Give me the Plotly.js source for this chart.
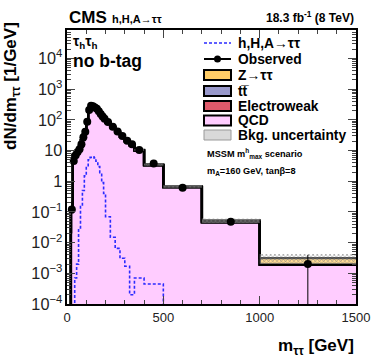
<!DOCTYPE html>
<html>
<head>
<meta charset="utf-8">
<script src="https://cdn.plot.ly/plotly-3.0.1.min.js"></script>
<style>
  html, body { margin: 0; padding: 0; background: #fff; }
  #plot { width: 374px; height: 359px; }
</style>
</head>
<body>
<div id="plot"></div>
<script>
// bin edges of the m_tautau histogram (GeV)
const edges = [0, 10, 20, 30, 40, 50, 60, 70, 80, 90, 100, 110, 120, 130, 140, 150, 160, 170, 180, 190, 200,
               225, 250, 275, 300, 325, 350, 400, 500, 700, 1000, 1500];

// background components, dN/dm per bin (1/GeV)
const qcd = [0, 0, 0.1, 7, 8, 9, 10, 13, 22, 40, 85, 190, 270, 265, 240, 215, 185, 152, 128, 108,
             82, 58, 40, 28, 20, 15, 10, 3.3, 0.64, 0.046, 0.0019];
const ewk = [0, 0, 0.002, 0.1, 0.15, 0.2, 0.3, 0.4, 0.5, 0.8, 1.2, 2, 2.5, 2.4, 2.2, 2, 1.8, 1.5, 1.2, 1,
             0.8, 0.6, 0.4, 0.3, 0.2, 0.15, 0.1, 0.03, 0.005, 0.0004, 0.00002];
const ttbar = [0, 0, 0.001, 0.05, 0.08, 0.1, 0.15, 0.2, 0.3, 0.4, 0.6, 0.9, 1.1, 1.1, 1, 0.9, 0.8, 0.7, 0.6, 0.5,
               0.4, 0.3, 0.2, 0.15, 0.1, 0.08, 0.05, 0.02, 0.004, 0.0003, 0.00001];
const ztt = [0, 0, 0.02, 0.5, 0.8, 1, 3, 8, 10, 8, 8, 10, 10, 8, 6, 5, 4, 3, 3, 2,
             2, 1.5, 1.2, 0.9, 0.7, 0.5, 0.4, 0.15, 0.03, 0.006, 0.0012];
// absolute background uncertainty per bin
const bkgUnc = [0, 0, 0.01, 0.6, 0.7, 0.8, 1.2, 2, 3, 4, 7, 14, 20, 19, 17, 15, 13, 11, 9, 7.5,
                5.5, 4, 2.8, 2, 1.5, 1.1, 0.8, 0.3, 0.06, 0.009, 0.0011];

// signal h,H,A -> tautau (mA = 160 GeV, tanb = 8)
const signal = [0, 0, 0, 0, 0.0007, 0.002, 0.03, 0.15, 0.5, 1.5, 3, 5, 6, 6.3, 5.8, 4.5, 3, 1.9, 0.9, 0.4,
                0.07, 0.015, 0.0065, 0.0031, 0.0017, 0.0002, 0.0007, 0.00045, 0, 0, 0];

// observed data
const obsX = [25, 35, 45, 55, 65, 75, 85, 95, 105, 115, 125, 135, 145, 155, 165, 175, 185, 195,
              212.5, 237.5, 262.5, 287.5, 312.5, 337.5, 375, 450, 600, 850, 1250];
const obsY = [0.12, 4.6, 7, 9, 11, 16, 27, 41, 87, 210, 290, 280, 255, 230, 190, 155, 130, 110,
              85, 60, 42, 30, 21, 16, 10.5, 3.8, 0.62, 0.048, 0.002];
const obsErr = [0.1, 0.7, 0.8, 1, 1, 1.3, 1.6, 2, 3, 4.5, 5.4, 5.3, 5, 4.8, 4.4, 4, 3.6, 3.3,
                1.8, 1.5, 1.3, 1.1, 0.9, 0.8, 0.45, 0.2, 0.055, 0.008, 0.002];

// legend entries, top to bottom
const legendNames = ['h,H,A\u2192\u03c4\u03c4', 'Observed', 'Z\u2192\u03c4\u03c4', 'tt\u0305',
                     'Electroweak', 'QCD', 'Bkg. uncertainty'];

const FLOOR = 1e-6;
const font = 'Liberation Sans, Arial, sans-serif';
const colors = { qcd: '#ffccff', ewk: '#de5a6a', tt: '#9999cc', ztt: '#ffcc66', sig: '#2b2bff' };

// plot frame in pixels, used to place the hand-made legend
const W = 374, H = 359, ML = 67, MR = 18, MT = 30, MB = 55;
const px = x => (x - ML) / (W - ML - MR);
const py = y => (H - MB - y) / (H - MT - MB);

// turn per-bin values into a step curve over the edges
const step = vals => {
    const y = vals.map(v => Math.max(v, FLOOR));
    y.push(y[y.length - 1]);
    return y;
};

// cumulative stack
const cum1 = qcd.slice();
const cum2 = cum1.map((v, i) => v + ewk[i]);
const cum3 = cum2.map((v, i) => v + ttbar[i]);
const cum4 = cum3.map((v, i) => v + ztt[i]);
const uncLo = cum4.map((v, i) => v - bkgUnc[i]);
const uncHi = cum4.map((v, i) => v + bkgUnc[i]);

const stackLine = { color: 'black', width: 2.4, shape: 'hv' };

const data = [
    { x: edges, y: step(edges.slice(1).map(() => 0)), type: 'scatter', mode: 'lines',
      line: { width: 0, shape: 'hv' } },
    { x: edges, y: step(cum1), name: 'QCD', type: 'scatter', mode: 'lines',
      fill: 'tonexty', fillcolor: colors.qcd, line: stackLine },
    { x: edges, y: step(cum2), name: 'Electroweak', type: 'scatter', mode: 'lines',
      fill: 'tonexty', fillcolor: colors.ewk, line: stackLine },
    { x: edges, y: step(cum3), name: 'ttbar', type: 'scatter', mode: 'lines',
      fill: 'tonexty', fillcolor: colors.tt, line: stackLine },
    { x: edges, y: step(cum4), name: 'Ztt', type: 'scatter', mode: 'lines',
      fill: 'tonexty', fillcolor: colors.ztt, line: stackLine },
    { x: edges, y: step(uncLo), type: 'scatter', mode: 'lines',
      line: { width: 0, shape: 'hv' } },
    { x: edges, y: step(uncHi), name: 'Bkg. uncertainty', type: 'scatter', mode: 'lines',
      fill: 'tonexty', fillcolor: 'rgba(0,0,0,0)',
      fillpattern: { shape: 'x', size: 3, solidity: 0.3, fgcolor: '#777', bgcolor: 'rgba(255,255,255,0.3)' },
      line: { width: 0, shape: 'hv' } },
    { x: edges, y: step(signal), name: 'signal', type: 'scatter', mode: 'lines',
      line: { color: colors.sig, width: 1.6, dash: '3px,2px', shape: 'hv' } },
    { x: obsX, y: obsY, name: 'Observed', type: 'scatter', mode: 'markers',
      marker: { color: 'black', size: 8 },
      error_y: { type: 'data', array: obsErr, color: 'black', thickness: 1, width: 0 } }
];

// hand-made legend (Plotly's own rows are too tall for this layout)
const rowY = [43, 59, 75, 91, 106, 120.5, 135];
const boxX0 = 204, boxX1 = 231, textX = 236;
const shapes = [];
const annotations = [];
const boxFills = [null, null, colors.ztt, colors.tt, colors.ewk, colors.qcd, '#d9d9d9'];
rowY.forEach((y, i) => {
    if (i === 0) {
        shapes.push({ type: 'line', xref: 'paper', yref: 'paper', x0: px(boxX0), x1: px(boxX1),
                      y0: py(y), y1: py(y), line: { color: colors.sig, width: 1.6, dash: '3px,2px' } });
    } else if (i === 1) {
        shapes.push({ type: 'line', xref: 'paper', yref: 'paper', x0: px(boxX0), x1: px(boxX1),
                      y0: py(y), y1: py(y), line: { color: 'black', width: 2 } });
        shapes.push({ type: 'circle', xref: 'paper', yref: 'paper', xsizemode: 'pixel', ysizemode: 'pixel',
                      xanchor: px((boxX0 + boxX1) / 2), yanchor: py(y), x0: -3.5, x1: 3.5, y0: -3.5, y1: 3.5,
                      fillcolor: 'black', line: { color: 'black', width: 0 } });
    } else {
        shapes.push({ type: 'rect', xref: 'paper', yref: 'paper', x0: px(boxX0), x1: px(boxX1),
                      y0: py(y - 5), y1: py(y + 5), fillcolor: boxFills[i],
                      line: { color: i === 6 ? '#999' : 'black', width: i === 6 ? 1 : 2 } });
    }
    annotations.push({ xref: 'paper', yref: 'paper', x: px(textX), y: py(y), xanchor: 'left', yanchor: 'middle',
                       text: '<b>' + legendNames[i] + '</b>', showarrow: false, font: { size: 13.8 } });
});

const layout = {
    width: W, height: H,
    margin: { l: ML, r: MR, t: MT, b: MB },
    paper_bgcolor: 'white', plot_bgcolor: 'white',
    font: { family: font, color: 'black', size: 12 },
    showlegend: false,
    xaxis: {
        range: [0, 1500], dtick: 500, ticks: 'inside', ticklen: 8, tickwidth: 1,
        showline: true, linewidth: 2, linecolor: 'black', mirror: 'ticks',
        showgrid: false, zeroline: false,
        tickfont: { family: font, size: 13, color: '#222' },
        minor: { dtick: 100, ticks: 'inside', ticklen: 4, tickwidth: 1, showgrid: false }
    },
    yaxis: {
        type: 'log', range: [-4, 4.93], dtick: 1, exponentformat: 'power',
        ticks: 'inside', ticklen: 8, tickwidth: 1,
        showline: true, linewidth: 2, linecolor: 'black', mirror: 'ticks',
        showgrid: false, zeroline: false,
        tickfont: { family: font, size: 13, color: '#222' },
        minor: { dtick: 'D1', ticks: 'inside', ticklen: 4, tickwidth: 1, showgrid: false }
    },
    shapes: shapes,
    annotations: annotations.concat([
        { xref: 'paper', yref: 'paper', x: 0, y: 1.005, xanchor: 'left', yanchor: 'bottom',
          text: '<b>CMS</b>', showarrow: false, font: { size: 17 } },
        { xref: 'paper', yref: 'paper', x: 0.15, y: 1.01, xanchor: 'left', yanchor: 'bottom',
          text: '<b>h,H,A\u2192\u03c4\u03c4</b>', showarrow: false, font: { size: 11 } },
        { xref: 'paper', yref: 'paper', x: 1, y: 1.01, xanchor: 'right', yanchor: 'bottom',
          text: '<b>18.3 fb<sup>-1</sup> (8 TeV)</b>', showarrow: false, font: { size: 12 } },
        { xref: 'paper', yref: 'paper', x: 0.015, y: py(42), xanchor: 'left', yanchor: 'middle',
          text: '<b>\u03c4<sub>h</sub>\u03c4<sub>h</sub></b>', showarrow: false, font: { size: 14 } },
        { xref: 'paper', yref: 'paper', x: 0.015, y: py(61), xanchor: 'left', yanchor: 'middle',
          text: '<b>no b-tag</b>', showarrow: false, font: { size: 17.5 } },
        { xref: 'paper', yref: 'paper', x: px(205), y: py(153), xanchor: 'left', yanchor: 'middle',
          text: '<b>MSSM m<sup>h</sup><sub>max</sub> scenario</b>', showarrow: false, font: { size: 9.2 } },
        { xref: 'paper', yref: 'paper', x: px(205), y: py(171), xanchor: 'left', yanchor: 'middle',
          text: '<b>m<sub>A</sub>=160 GeV, tan\u03b2=8</b>', showarrow: false, font: { size: 9.2 } },
        { xref: 'paper', yref: 'paper', x: -0.19, y: 1.037, xanchor: 'center', yanchor: 'top',
          text: '<b>dN/dm<sub>\u03c4\u03c4</sub> [1/GeV]</b>', textangle: -90, showarrow: false,
          font: { size: 17 } },
        { xref: 'paper', yref: 'paper', x: 1, y: -0.11, xanchor: 'right', yanchor: 'top',
          text: '<b>m<sub>\u03c4\u03c4</sub> [GeV]</b>', showarrow: false, font: { size: 17 } }
    ])
};

Plotly.newPlot('plot', data, layout, { displayModeBar: false, staticPlot: true });
</script>
</body>
</html>
